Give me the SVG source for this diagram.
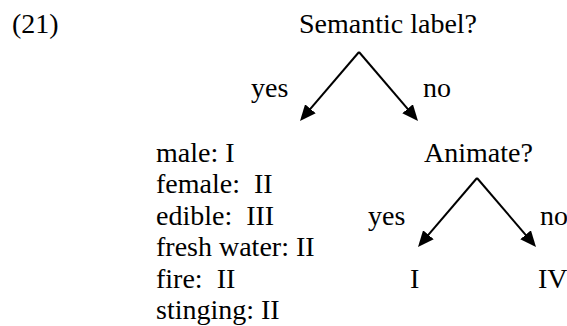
<svg xmlns="http://www.w3.org/2000/svg" width="567" height="326" viewBox="0 0 567 326">
<style>
.conn line{stroke:#000;stroke-width:2;fill:none}
</style>
<defs>
<marker id="ah" markerUnits="userSpaceOnUse" markerWidth="16" markerHeight="14" refX="8" refY="7" orient="auto" viewBox="0 0 16 14">
<path d="M0,0 L16,7 L0,14 Z" fill="#000"/>
</marker>
</defs>
<rect width="567" height="326" fill="#fff"/>
<g font-family="Liberation Serif, Times New Roman, DejaVu Serif, serif" font-size="28" fill="#000">
<g id="example-number"><text x="12" y="32.5">(21)</text></g>
<g id="node-semantic"><text x="299" y="32.5">Semantic label?</text></g>
<g id="node-list">
<text x="156" y="161.5">male: I</text>
<text x="156" y="193" xml:space="preserve">female:  II</text>
<text x="156" y="224.5" xml:space="preserve">edible:  III</text>
<text x="156" y="256">fresh water: II</text>
<text x="156" y="287.5" xml:space="preserve">fire:  II</text>
<text x="156" y="319">stinging: II</text>
</g>
<g id="node-animate"><text x="424" y="162">Animate?</text></g>
<g id="node-I"><text x="410" y="288">I</text></g>
<g id="node-IV"><text x="538" y="288">IV</text></g>
<g id="labels">
<text x="251" y="97">yes</text>
<text x="423" y="97">no</text>
<text x="368" y="225">yes</text>
<text x="540" y="225">no</text>
</g>
</g>
<g id="connectors" class="conn">
<line x1="359" y1="52" x2="305.2" y2="114.9" marker-end="url(#ah)"/>
<line x1="359" y1="52" x2="412.8" y2="114.9" marker-end="url(#ah)"/>
<line x1="477" y1="178" x2="423.2" y2="240.9" marker-end="url(#ah)"/>
<line x1="477" y1="178" x2="530.8" y2="240.9" marker-end="url(#ah)"/>
</g>
</svg>
